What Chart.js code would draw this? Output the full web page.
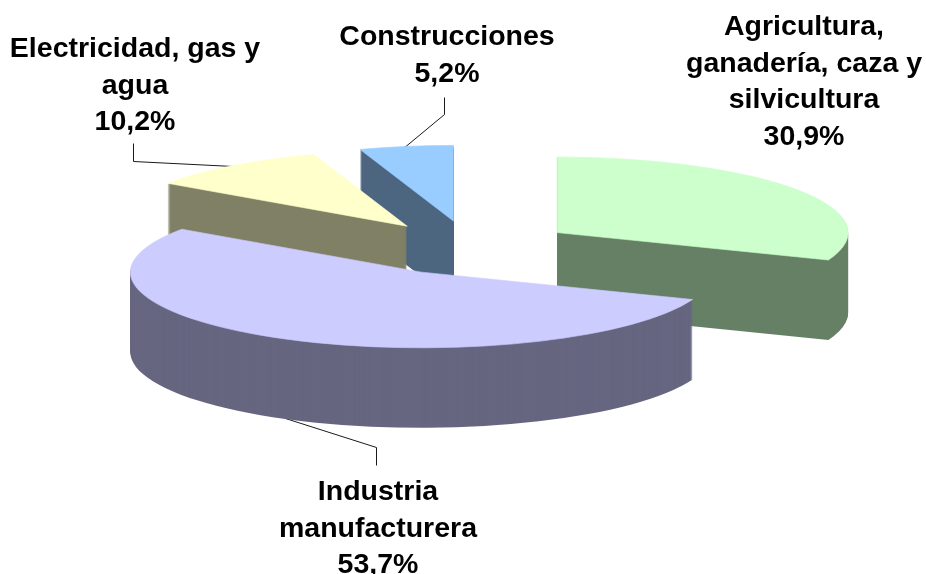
<!DOCTYPE html>
<html>
<head>
<meta charset="utf-8">
<style>html,body{margin:0;padding:0;background:#fff}canvas{display:block}</style>
<script src="https://cdn.jsdelivr.net/npm/chart.js@4"></script>
</head>
<body>
<canvas id="c" width="926" height="574"></canvas>
<script>
const categories = ["Agricultura, ganadería, caza y silvicultura", "Industria manufacturera", "Electricidad, gas y agua", "Construcciones"];
const values = [30.9, 53.7, 10.2, 5.2];
const topColors = ["#CCFFCC", "#CCCCFF", "#FFFFCC", "#99CCFF"];
const sideColors = ["#668066", "#666680", "#808066", "#4D6680"];
const labelLines = [["Agricultura,", "ganadería, caza y", "silvicultura"], ["Industria", "manufacturera"], ["Electricidad, gas y", "agua"], ["Construcciones"]];

// 3D look
const CENTER = {x: 470.5, y: 248};
const TILT = 0.26, DEPTH = 80, EXPLODE = 105, RADIUS = 291;
const paintOrder = [3, 2, 0, 1];
// label placement: centre x, first baseline y
const labelAnchors = [{x: 804, y: 35}, {x: 378, y: 500}, {x: 135, y: 57}, {x: 447, y: 45}];
const LINE_HEIGHT = 36.7;
const leaders = [
  null,
  [[285, 418], [376, 447], [376, 465]],
  [[133, 143], [133, 161], [233, 166]],
  [[444, 97], [444, 114], [403, 148]]
];

const pie3d = {
  id: 'pie3d',
  beforeDatasetsDraw(chart) {
    const ctx = chart.ctx;
    const arcs = chart.getDatasetMeta(0).data;

    ctx.save();
    ctx.strokeStyle = '#1a1a1a';
    ctx.lineWidth = 1;
    leaders.forEach(pts => {
      if (!pts) return;
      ctx.beginPath();
      pts.forEach((p, i) => i ? ctx.lineTo(p[0] + .5, p[1] + .5) : ctx.moveTo(p[0] + .5, p[1] + .5));
      ctx.stroke();
    });
    ctx.restore();

    const paint = (el, color, dy, edge) => {
      const saved = el.options;
      el.options = Object.assign({}, saved, edge
        ? {backgroundColor: color, borderColor: color, borderWidth: 1, borderAlign: 'center'}
        : {backgroundColor: color});
      const mid = (el.startAngle + el.endAngle) / 2;
      ctx.save();
      ctx.translate(CENTER.x, CENTER.y + dy);
      ctx.scale(1, TILT);
      ctx.translate(-el.x + Math.cos(mid) * EXPLODE, -el.y + Math.sin(mid) * EXPLODE);
      el.draw(ctx);
      ctx.restore();
      el.options = saved;
    };
    paintOrder.forEach(i => {
      for (let d = DEPTH; d >= 1; d--) paint(arcs[i], sideColors[i], d, false);
      paint(arcs[i], topColors[i], 0, true);
    });

    ctx.save();
    ctx.fillStyle = '#000';
    ctx.font = 'bold 28.5px "Liberation Sans", Arial, sans-serif';
    ctx.textAlign = 'center';
    ctx.textBaseline = 'alphabetic';
    labelLines.forEach((lines, i) => {
      const all = lines.concat(values[i].toFixed(1).replace('.', ',') + '%');
      all.forEach((t, j) => ctx.fillText(t, labelAnchors[i].x, labelAnchors[i].y + j * LINE_HEIGHT));
    });
    ctx.restore();
    return false;
  }
};

new Chart(document.getElementById('c'), {
  type: 'pie',
  data: {
    labels: categories,
    datasets: [{data: values, backgroundColor: topColors, borderWidth: 0, radius: RADIUS, clip: false}]
  },
  options: {
    responsive: false,
    animation: false,
    events: [],
    rotation: 0,
    layout: {padding: 0},
    plugins: {legend: {display: false}, tooltip: {enabled: false}, title: {display: false}}
  },
  plugins: [pie3d]
});
</script>
</body>
</html>
